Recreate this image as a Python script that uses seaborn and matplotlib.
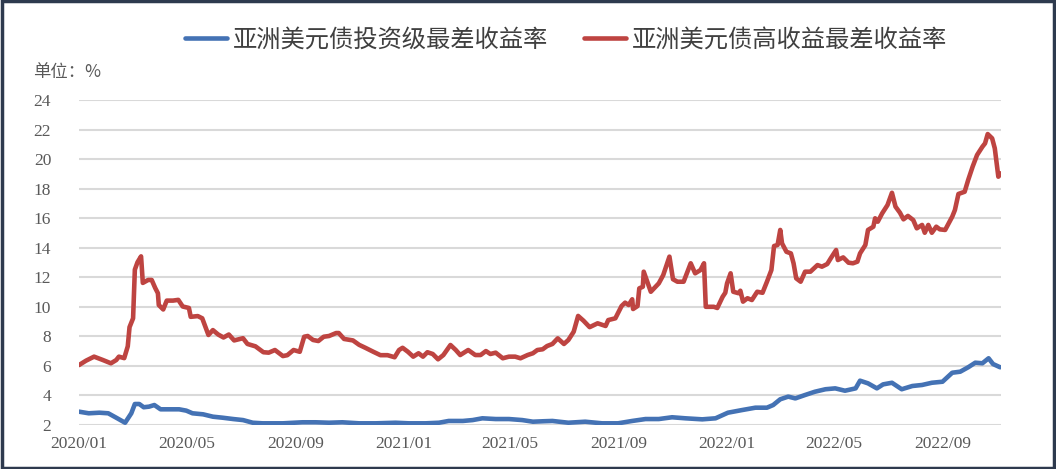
import numpy as np
import pandas as pd
import matplotlib
matplotlib.use("Agg")
import matplotlib.pyplot as plt
import matplotlib.dates as mdates
from matplotlib.patches import Rectangle
import seaborn as sns

# ---------------------------------------------------------------------------
# Data, unit: %
# ---------------------------------------------------------------------------
ig_name = "亚洲美元债投资级最差收益率"
hy_name = "亚洲美元债高收益最差收益率"

ig_dates = [
    "2020-01-01", "2020-01-12", "2020-01-24", "2020-02-03", "2020-02-12", "2020-02-22",
    "2020-02-29", "2020-03-04", "2020-03-09", "2020-03-14", "2020-03-20", "2020-03-26",
    "2020-04-02", "2020-04-11", "2020-04-23", "2020-05-01", "2020-05-08", "2020-05-20",
    "2020-05-31", "2020-06-11", "2020-06-23", "2020-07-04", "2020-07-15", "2020-07-26",
    "2020-08-18", "2020-09-09", "2020-09-24", "2020-10-09", "2020-10-24", "2020-11-12",
    "2020-12-01", "2020-12-23", "2021-01-07", "2021-01-26", "2021-02-10", "2021-02-21",
    "2021-03-09", "2021-03-20", "2021-03-31", "2021-04-15", "2021-04-30", "2021-05-15",
    "2021-05-27", "2021-06-08", "2021-06-18", "2021-07-06", "2021-07-25", "2021-08-13",
    "2021-08-31", "2021-09-16", "2021-10-01", "2021-10-16", "2021-10-31", "2021-11-15",
    "2021-12-04", "2021-12-19", "2022-01-02", "2022-01-18", "2022-02-02", "2022-02-15",
    "2022-02-22", "2022-03-02", "2022-03-11", "2022-03-19", "2022-03-30", "2022-04-10",
    "2022-04-22", "2022-05-03", "2022-05-14", "2022-05-26", "2022-05-31", "2022-06-09",
    "2022-06-19", "2022-06-26", "2022-07-06", "2022-07-17", "2022-07-29", "2022-08-09",
    "2022-08-20", "2022-09-01", "2022-09-12", "2022-09-21", "2022-09-30", "2022-10-08",
    "2022-10-16", "2022-10-23", "2022-10-28", "2022-11-05",
]
ig_values = [
    2.87, 2.76, 2.80, 2.76, 2.46, 2.12,
    2.76, 3.39, 3.39, 3.17, 3.21, 3.32,
    3.03, 3.03, 3.03, 2.94, 2.76, 2.69,
    2.53, 2.46, 2.37, 2.30, 2.12, 2.08,
    2.08, 2.15, 2.15, 2.12, 2.15, 2.08,
    2.08, 2.12, 2.08, 2.08, 2.12, 2.24,
    2.24, 2.30, 2.42, 2.37, 2.37, 2.30,
    2.19, 2.22, 2.24, 2.12, 2.19, 2.08,
    2.08, 2.24, 2.37, 2.37, 2.49, 2.42,
    2.35, 2.42, 2.80, 2.98, 3.14, 3.14,
    3.32, 3.71, 3.89, 3.77, 4.00, 4.22,
    4.39, 4.45, 4.29, 4.45, 4.97, 4.79,
    4.45, 4.72, 4.83, 4.39, 4.61, 4.68,
    4.83, 4.90, 5.51, 5.58, 5.88, 6.19,
    6.15, 6.49, 6.10, 5.88,
]

hy_dates = [
    "2020-01-01", "2020-01-09", "2020-01-18", "2020-01-28", "2020-02-06", "2020-02-12",
    "2020-02-15", "2020-02-21", "2020-02-25", "2020-02-27", "2020-03-02", "2020-03-04",
    "2020-03-07", "2020-03-11", "2020-03-13", "2020-03-19", "2020-03-23", "2020-03-27",
    "2020-03-30", "2020-03-31", "2020-04-05", "2020-04-09", "2020-04-16", "2020-04-22",
    "2020-04-27", "2020-05-04", "2020-05-06", "2020-05-14", "2020-05-19", "2020-05-26",
    "2020-05-31", "2020-06-06", "2020-06-12", "2020-06-18", "2020-06-24", "2020-07-04",
    "2020-07-09", "2020-07-18", "2020-07-27", "2020-08-02", "2020-08-09", "2020-08-18",
    "2020-08-23", "2020-08-30", "2020-09-06", "2020-09-11", "2020-09-15", "2020-09-21",
    "2020-09-27", "2020-10-03", "2020-10-09", "2020-10-17", "2020-10-20", "2020-10-26",
    "2020-11-05", "2020-11-12", "2020-11-19", "2020-11-28", "2020-12-06", "2020-12-14",
    "2020-12-22", "2020-12-27", "2020-12-31", "2021-01-06", "2021-01-12", "2021-01-18",
    "2021-01-23", "2021-01-28", "2021-02-03", "2021-02-09", "2021-02-15", "2021-02-23",
    "2021-03-01", "2021-03-06", "2021-03-15", "2021-03-23", "2021-03-29", "2021-04-04",
    "2021-04-09", "2021-04-15", "2021-04-23", "2021-04-30", "2021-05-07", "2021-05-13",
    "2021-05-21", "2021-05-27", "2021-06-01", "2021-06-07", "2021-06-12", "2021-06-18",
    "2021-06-24", "2021-07-01", "2021-07-06", "2021-07-12", "2021-07-17", "2021-07-23",
    "2021-07-30", "2021-08-08", "2021-08-17", "2021-08-20", "2021-08-28", "2021-09-04",
    "2021-09-08", "2021-09-12", "2021-09-16", "2021-09-17", "2021-09-22", "2021-09-24",
    "2021-09-28", "2021-09-29", "2021-10-07", "2021-10-16", "2021-10-21", "2021-10-28",
    "2021-11-01", "2021-11-06", "2021-11-13", "2021-11-21", "2021-11-26", "2021-12-02",
    "2021-12-06", "2021-12-08", "2021-12-17", "2021-12-21", "2021-12-27", "2021-12-30",
    "2022-01-01", "2022-01-05", "2022-01-08", "2022-01-14", "2022-01-16", "2022-01-19",
    "2022-01-24", "2022-01-29", "2022-02-04", "2022-02-10", "2022-02-15", "2022-02-20",
    "2022-02-23", "2022-02-27", "2022-03-02", "2022-03-04", "2022-03-09", "2022-03-14",
    "2022-03-17", "2022-03-20", "2022-03-25", "2022-03-30", "2022-04-05", "2022-04-13",
    "2022-04-18", "2022-04-24", "2022-04-28", "2022-05-04", "2022-05-06", "2022-05-12",
    "2022-05-18", "2022-05-23", "2022-05-28", "2022-05-31", "2022-06-06", "2022-06-09",
    "2022-06-15", "2022-06-17", "2022-06-20", "2022-06-25", "2022-07-01", "2022-07-06",
    "2022-07-10", "2022-07-15", "2022-07-19", "2022-07-24", "2022-07-30", "2022-08-03",
    "2022-08-09", "2022-08-12", "2022-08-16", "2022-08-20", "2022-08-25", "2022-08-29",
    "2022-09-04", "2022-09-07", "2022-09-12", "2022-09-15", "2022-09-19", "2022-09-26",
    "2022-09-30", "2022-10-05", "2022-10-10", "2022-10-16", "2022-10-19", "2022-10-22",
    "2022-10-27", "2022-10-30", "2022-11-03", "2022-11-06",
]
hy_values = [
    6.03, 6.33, 6.60, 6.37, 6.15, 6.37,
    6.60, 6.50, 7.30, 8.60, 9.20, 12.50,
    13.00, 13.40, 11.60, 11.80, 11.80, 11.25,
    10.90, 10.10, 9.80, 10.40, 10.40, 10.45,
    10.00, 9.90, 9.30, 9.35, 9.20, 8.07,
    8.40, 8.10, 7.90, 8.10, 7.70, 7.85,
    7.46, 7.30, 6.90, 6.87, 7.05, 6.64,
    6.70, 7.05, 6.93, 7.95, 8.00, 7.73,
    7.66, 7.95, 8.00, 8.20, 8.20, 7.80,
    7.70, 7.40, 7.20, 6.93, 6.70, 6.70,
    6.56, 7.05, 7.20, 6.93, 6.60, 6.83,
    6.60, 6.90, 6.78, 6.42, 6.71, 7.39,
    7.05, 6.71, 7.05, 6.71, 6.71, 6.98,
    6.78, 6.87, 6.49, 6.60, 6.60, 6.49,
    6.71, 6.83, 7.05, 7.10, 7.32, 7.46,
    7.84, 7.46, 7.73, 8.29, 9.36, 9.04,
    8.60, 8.86, 8.68, 9.08, 9.20, 10.03,
    10.26, 10.10, 10.49, 9.83, 10.03, 11.23,
    11.34, 12.36, 11.00, 11.57, 12.13, 13.38,
    11.85, 11.68, 11.68, 12.93, 12.25, 12.47,
    12.93, 9.98, 9.98, 9.90, 10.66, 10.93,
    11.57, 12.25, 11.00, 10.90, 11.07, 10.33,
    10.56, 10.44, 11.00, 10.93, 11.68, 12.47,
    14.10, 14.17, 15.19, 14.28, 13.71, 13.60,
    12.93, 11.91, 11.68, 12.36, 12.36, 12.81,
    12.70, 12.88, 13.27, 13.83, 13.15, 13.33,
    12.97, 12.93, 13.04, 13.60, 14.17, 15.19,
    15.41, 15.98, 15.75, 16.32, 16.88, 17.71,
    16.77, 16.36, 15.91, 16.14, 15.86, 15.30,
    15.53, 15.00, 15.53, 15.00, 15.41, 15.23,
    15.19, 15.53, 16.09, 16.54, 17.63, 17.78,
    18.58, 19.48, 20.27, 20.83, 21.06, 21.69,
    21.40, 20.72, 18.80, 19.03,
]

y_ticks = [2, 4, 6, 8, 10, 12, 14, 16, 18, 20, 22, 24]
x_tick_dates = ["2020-01-01", "2020-05-01", "2020-09-01", "2021-01-01", "2021-05-01",
                "2021-09-01", "2022-01-01", "2022-05-01", "2022-09-01"]
unit_label = "单位：%"

# ---------------------------------------------------------------------------
# Plot
# ---------------------------------------------------------------------------
sns.set_theme(style="white")
plt.rcParams['font.family'] = ['Liberation Serif', 'Noto Sans CJK SC', 'DejaVu Sans']

BLUE = "#4472B4"
RED = "#BE4441"
GRID = "#D9D9D9"
TXT = "#595959"

df_ig = pd.DataFrame({"date": pd.to_datetime(ig_dates), "value": ig_values})
df_hy = pd.DataFrame({"date": pd.to_datetime(hy_dates), "value": hy_values})

fig = plt.figure(figsize=(10.56, 4.69), dpi=100)
ax = fig.add_axes([79 / 1056, 1 - 424.5 / 469, (1001 - 79) / 1056, (424.5 - 100) / 469])

sns.lineplot(data=df_ig, x="date", y="value", ax=ax, color=BLUE, linewidth=3.3,
             label=ig_name, solid_joinstyle="round")
sns.lineplot(data=df_hy, x="date", y="value", ax=ax, color=RED, linewidth=3.3,
             label=hy_name, solid_joinstyle="round")

ax.set_ylim(2, 24)
ax.set_yticks(y_ticks)
ax.set_xlim(pd.Timestamp("2020-01-01"), pd.Timestamp("2022-11-06"))
ax.set_xticks(pd.to_datetime(x_tick_dates))
ax.xaxis.set_major_formatter(mdates.DateFormatter("%Y/%m"))
ax.set_xlabel("")
ax.set_ylabel("")

ax.grid(axis="y", color=GRID, linewidth=1.5)
ax.set_axisbelow(True)
for s in ax.spines.values():
    s.set_visible(False)
ax.tick_params(axis="both", length=0, labelsize=12.5, labelcolor=TXT)
ax.tick_params(axis="y", pad=20)
ax.tick_params(axis="x", pad=8)

# legend on top
handles, labels = ax.get_legend_handles_labels()
ax.get_legend().remove()
fig.legend(handles, labels, loc="center", bbox_to_anchor=(566 / 1056, 1 - 40 / 469),
           ncol=2, frameon=False, handlelength=1.75, handletextpad=0.25,
           columnspacing=1.45, prop={"family": ["Noto Sans CJK SC"], "size": 17.5},
           labelcolor="#404040")

fig.text(33 / 1056, 1 - 72 / 469, unit_label, ha="left", va="center",
         fontsize=12.5, color=TXT, family=["Noto Sans CJK SC", "DejaVu Sans"])

# dark frame around the picture
fig.patches.append(Rectangle((0.0015, 0.003), 0.997, 0.994, transform=fig.transFigure,
                             fill=False, edgecolor="#2E3A4E", linewidth=2.5))

fig.savefig("out.png", dpi=100)
plt.close(fig)
